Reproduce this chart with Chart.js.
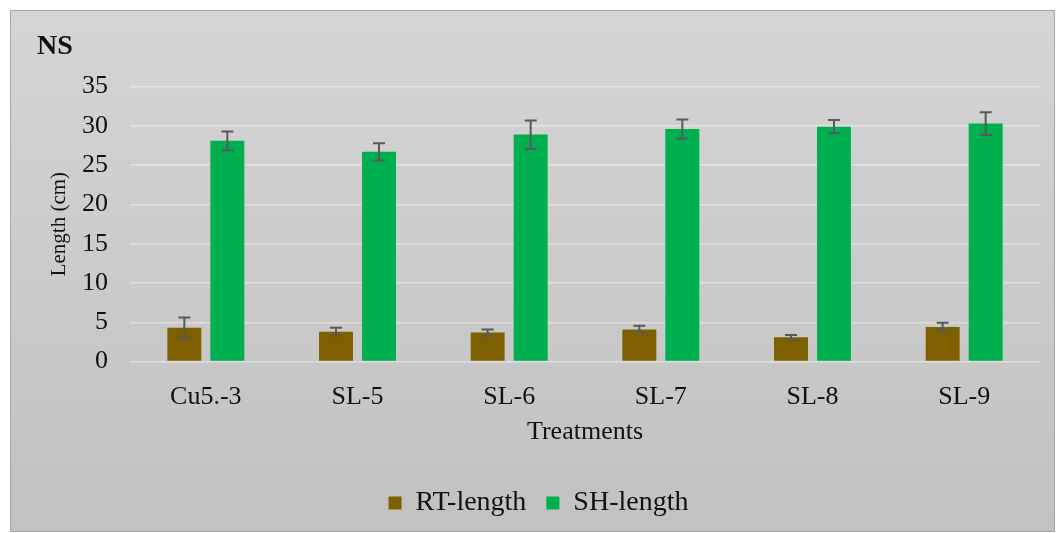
<!DOCTYPE html>
<html>
<head>
<meta charset="utf-8">
<script src="https://cdn.jsdelivr.net/npm/chart.js@4"></script>
<style>
    body { margin: 0; background: #ffffff; }
    #wrap {
        position: absolute;
        left: 10px;
        top: 10px;
        width: 1043px;
        height: 520px;
        border: 1px solid #a6a6a6;
        background: linear-gradient(#d5d5d5, #c1c1c1);
    }
</style>
</head>
<body>
<div id="wrap"><canvas id="chart"></canvas></div>
<script>
const treatments = ['Cu5.-3', 'SL-5', 'SL-6', 'SL-7', 'SL-8', 'SL-9'];
const rt_length = [4.3, 3.8, 3.7, 4.1, 3.1, 4.4];
const rt_error = [1.3, 0.5, 0.4, 0.45, 0.3, 0.55];
const sh_length = [28.1, 26.7, 28.9, 29.6, 29.9, 30.3];
const sh_error = [1.2, 1.1, 1.8, 1.2, 0.85, 1.45];

const serif = "'Liberation Serif', 'Times New Roman', serif";

// draws the +/- error bars on top of each bar
const error_bars = {
    id: 'error_bars',
    afterDatasetsDraw(chart) {
        const ctx = chart.ctx;
        const y = chart.scales.y;
        ctx.save();
        ctx.strokeStyle = '#595959';
        ctx.lineWidth = 2;
        chart.data.datasets.forEach((ds, i) => {
            const meta = chart.getDatasetMeta(i);
            meta.data.forEach((bar, j) => {
                const top = y.getPixelForValue(ds.data[j] + ds.errors[j]);
                const bottom = y.getPixelForValue(ds.data[j] - ds.errors[j]);
                ctx.beginPath();
                ctx.moveTo(bar.x, top);
                ctx.lineTo(bar.x, bottom);
                ctx.moveTo(bar.x - 6, top);
                ctx.lineTo(bar.x + 6, top);
                ctx.moveTo(bar.x - 6, bottom);
                ctx.lineTo(bar.x + 6, bottom);
                ctx.stroke();
            });
        });
        ctx.restore();
    }
};

new Chart(document.getElementById('chart'), {
    type: 'bar',
    data: {
        labels: treatments,
        datasets: [{
            label: 'RT-length',
            data: rt_length,
            errors: rt_error,
            backgroundColor: '#7f6000',
            categoryPercentage: 0.567,
            barPercentage: 0.79
        }, {
            label: 'SH-length',
            data: sh_length,
            errors: sh_error,
            backgroundColor: '#00b050',
            categoryPercentage: 0.567,
            barPercentage: 0.79
        }]
    },
    options: {
        responsive: true,
        maintainAspectRatio: false,
        animation: false,
        layout: {
            padding: { left: 26, right: 14, top: 10, bottom: 4 }
        },
        scales: {
            x: {
                grid: { display: false },
                border: { display: false },
                ticks: {
                    color: '#111',
                    padding: 12,
                    font: { family: serif, size: 26 }
                },
                title: {
                    display: true,
                    text: 'Treatments',
                    color: '#111',
                    padding: { top: -8, bottom: 21 },
                    font: { family: serif, size: 26 }
                }
            },
            y: {
                min: 0,
                max: 35,
                afterFit: (scale) => { scale.width = 93; },
                grid: {
                    color: 'rgba(255,255,255,0.4)',
                    lineWidth: 1.5,
                    drawTicks: false
                },
                border: { display: false },
                ticks: {
                    stepSize: 5,
                    color: '#111',
                    padding: 22,
                    font: { family: serif, size: 26 }
                },
                title: {
                    display: true,
                    text: 'Length (cm)',
                    color: '#111',
                    padding: { top: 10, bottom: 6 },
                    font: { family: serif, size: 21 }
                }
            }
        },
        plugins: {
            title: {
                display: true,
                text: 'NS',
                align: 'start',
                color: '#111',
                padding: { top: 9, bottom: 23 },
                font: { family: serif, size: 28, weight: 'bold' }
            },
            legend: {
                position: 'bottom',
                labels: {
                    color: '#111',
                    boxWidth: 13,
                    boxHeight: 13,
                    padding: 20,
                    font: { family: serif, size: 28 }
                }
            },
            tooltip: { enabled: false }
        }
    },
    plugins: [error_bars]
});
</script>
</body>
</html>
